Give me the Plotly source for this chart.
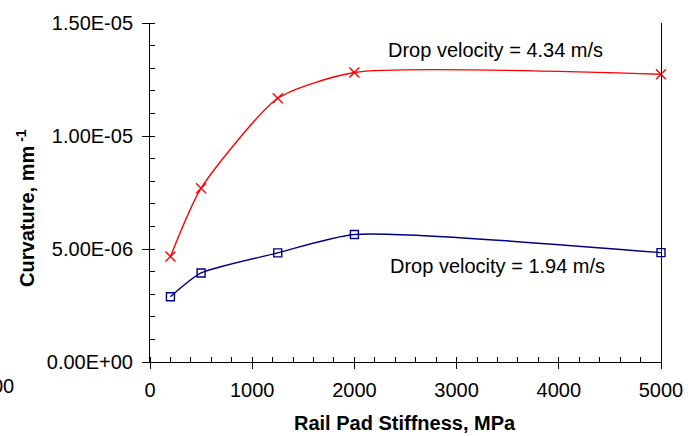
import plotly.graph_objects as go

# Data
stiffness = [200, 500, 1250, 2000, 5000]
curv_434 = [4.67e-6, 7.69e-6, 1.167e-5, 1.281e-5, 1.273e-5]
curv_194 = [2.89e-6, 3.94e-6, 4.83e-6, 5.64e-6, 4.84e-6]

x_ticks = [0, 1000, 2000, 3000, 4000, 5000]
y_ticks = [0, 5e-6, 1e-5, 1.5e-5]
y_ticktext = ["0.00E+00", "5.00E-06", "1.00E-05", "1.50E-05"]

label_434 = "Drop velocity = 4.34 m/s"
label_194 = "Drop velocity = 1.94 m/s"

FONT = "Liberation Sans, Arial, Helvetica, sans-serif"
FS = 20

fig = go.Figure()
fig.add_trace(go.Scatter(
    x=stiffness, y=curv_434, mode="lines+markers",
    line=dict(color="#FF0000", width=1.4, shape="spline", smoothing=0.6),
    marker=dict(symbol="x-thin", size=10, line=dict(color="#FF0000", width=1.4)),
    cliponaxis=False, showlegend=False))
fig.add_trace(go.Scatter(
    x=stiffness, y=curv_194, mode="lines+markers",
    line=dict(color="#000080", width=1.4, shape="spline", smoothing=0.6),
    marker=dict(symbol="square-open", size=8, color="#000080",
                line=dict(color="#000080", width=1.4)),
    cliponaxis=False, showlegend=False))

fig.update_layout(
    width=695, height=436,
    margin=dict(l=150, r=32, t=18, b=74),
    paper_bgcolor="white", plot_bgcolor="white",
    font=dict(family=FONT, size=FS, color="black"),
    xaxis=dict(
        range=[0, 5000], tickvals=x_ticks, ticktext=[str(v) for v in x_ticks],
        showgrid=False, zeroline=False, showline=True, linecolor="black", linewidth=1,
        ticks="outside", ticklen=6, tickcolor="black", tickwidth=1,
        ticklabelstandoff=4,
        minor=dict(dtick=200, ticks="inside", ticklen=5, tickcolor="black", tickwidth=1, showgrid=False),
    ),
    yaxis=dict(
        range=[0, 1.5e-5], tickvals=y_ticks, ticktext=y_ticktext,
        showgrid=False, zeroline=False, showline=True, linecolor="black", linewidth=1,
        mirror=True,
        ticks="outside", ticklen=7, tickcolor="black", tickwidth=1,
        ticklabelstandoff=5,
        minor=dict(dtick=1e-6, ticks="inside", ticklen=5, tickcolor="black", tickwidth=1, showgrid=False),
    ),
    annotations=[
        dict(text=label_434, x=3382, y=1.382e-5, xref="x", yref="y",
             showarrow=False, xanchor="center", yanchor="middle",
             font=dict(family=FONT, size=FS, color="black")),
        dict(text=label_194, x=3400, y=4.27e-6, xref="x", yref="y",
             showarrow=False, xanchor="center", yanchor="middle",
             font=dict(family=FONT, size=FS, color="black")),
        dict(text="Rail Pad Stiffness, MPa", x=0.499, y=-0.18, xref="paper", yref="paper",
             showarrow=False, xanchor="center", yanchor="middle",
             font=dict(family=FONT, size=FS, color="black", weight="bold")),
        dict(text="Curvature, mm<sup> -1</sup>", x=-0.2437, y=0.456, xref="paper", yref="paper",
             textangle=-90, showarrow=False, xanchor="center", yanchor="middle",
             font=dict(family=FONT, size=FS, color="black", weight="bold")),
        dict(text="00", x=-0.263, y=-0.0698, xref="paper", yref="paper",
             showarrow=False, xanchor="right", yanchor="middle",
             font=dict(family=FONT, size=FS, color="black")),
    ],
)

fig.write_html("out.html")
